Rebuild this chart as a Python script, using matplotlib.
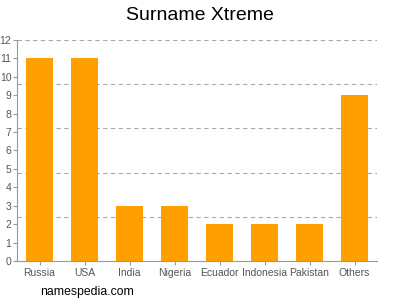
import matplotlib
matplotlib.use("Agg")
import matplotlib.pyplot as plt
import numpy as np

categories = ["Russia", "USA", "India", "Nigeria", "Ecuador", "Indonesia", "Pakistan", "Others"]
values = [11, 11, 3, 3, 2, 2, 2, 9]
yticks = list(range(0, 13))
grid_levels = [2.4, 4.8, 7.2, 9.6, 12]

plt.rcParams['font.family'] = ['Liberation Sans', 'DejaVu Sans']
fig = plt.figure(figsize=(4, 3), dpi=100)
ax = fig.add_axes([0.0425, 0.13, 0.9, 0.7367])

x = np.arange(len(categories))
ax.bar(x, values, width=0.62, color="#FFA000", zorder=3)
for g in grid_levels:
    ax.axhline(g, color="#aaaaaa", linestyle=(0, (4, 3)), linewidth=0.8, zorder=1)

ax.set_xlim(-0.5, len(categories) - 0.5)
ax.set_ylim(0, 12)
ax.set_yticks(yticks)
ax.set_xticks(x)
ax.set_xticklabels(categories)
ax.tick_params(axis='both', colors="#999999", labelcolor="#555555", labelsize=7.5, length=3, width=0.8)
ax.tick_params(axis='y', pad=1)
ax.tick_params(axis='x', pad=2)
for s in ["top", "right"]:
    ax.spines[s].set_visible(False)
for s in ["left", "bottom"]:
    ax.spines[s].set_color("#999999")
    ax.spines[s].set_linewidth(0.8)

fig.text(0.5, 0.948, "Surname Xtreme", ha="center", va="center", fontsize=14, color="#000000")
fig.text(0.1, 0.028, "namespedia.com", ha="left", va="center", fontsize=8.8, color="#000000")

fig.savefig("out.png", dpi=100)
